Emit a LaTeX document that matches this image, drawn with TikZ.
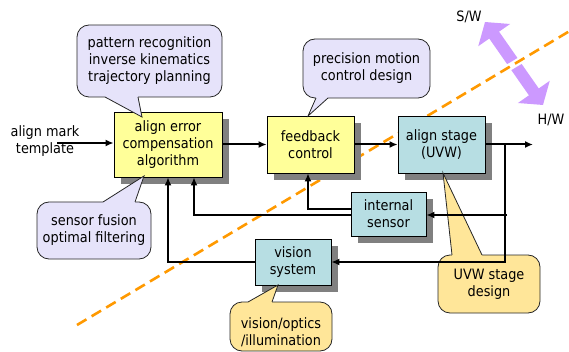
\documentclass[tikz,border=0pt]{standalone}
\usepackage{fontspec}
\setmainfont{DejaVu Sans Condensed}
\usetikzlibrary{arrows.meta,shadows}

\definecolor{boxyellow}{HTML}{FFFF99}
\definecolor{boxcyan}{HTML}{B7DEE3}
\definecolor{lavender}{HTML}{E6E3FA}
\definecolor{sand}{HTML}{FFE699}
\definecolor{swhw}{HTML}{CC99FF}
\definecolor{divider}{HTML}{FF9900}
\definecolor{shade}{HTML}{808080}

% pointer of a speech bubble: fill colour, left x, right x, base y, inner y, tip
\newcommand\calloutptr[6]{%
  \fill[#1] (#2,#5) -- (#2,#4) -- (#6) -- (#3,#4) -- (#3,#5) -- cycle;
  \draw[bubbleline] (#2,#4) -- (#6) -- (#3,#4);}

\begin{document}
\begin{tikzpicture}[x=1pt,y=-1pt,
  font=\fontsize{14.3}{17}\selectfont,
  block/.style={draw, line width=0.8pt, align=center, inner sep=0pt,
    drop shadow={shadow xshift=7pt, shadow yshift=-7pt, fill=shade, opacity=1}},
  ybox/.style={block, fill=boxyellow},
  cbox/.style={block, fill=boxcyan},
  bubbleline/.style={draw=black!85, line width=0.8pt},
  bubble/.style={bubbleline, rounded corners=12pt, align=center, inner sep=0pt},
  conn/.style={line width=2pt, -{Latex[length=8pt,width=7pt]}},
  fbk/.style={line width=1.5pt, -{Latex[length=8pt,width=7pt]}},
  plain/.style={align=center, inner sep=0pt}]
\useasboundingbox (0,0) rectangle (569,352);

% software / hardware split
\coordinate (swtip) at (485,22);
\coordinate (hwtip) at (543,105);
\draw[swhw, line width=12pt, {Triangle[length=16pt,width=38pt]}-{Triangle[length=16pt,width=38pt]}] (swtip) -- (hwtip);
\draw[white, line width=7pt] (496,75) -- (533,53);
\coordinate (dl1) at (77,325);
\coordinate (dl2) at (569,31.4);
\draw[divider, line width=2.6pt, dash pattern=on 11pt off 6pt] (dl1) -- (dl2);
\node[plain] (sw) at (469,17) {S/W};
\node[plain] (hw) at (551,120) {H/W};

% blocks
\node[ybox, minimum width=108, minimum height=65] (ae) at (168,144.5) {align error\\compensation\\algorithm};
\node[ybox, minimum width=87, minimum height=57] (fb) at (310.5,144.5) {feedback\\control};
\node[cbox, minimum width=87, minimum height=57] (st) at (441.5,144.5) {align stage\\(UVW)};
\node[cbox, minimum width=75, minimum height=44] (is) at (388.5,214) {internal\\sensor};
\node[cbox, minimum width=76, minimum height=46] (vs) at (293,262) {vision\\system};
\node[plain] (tmpl) at (45,141.5) {align mark\\template};

% speech bubbles
\node[bubble, fill=lavender, minimum width=145, minimum height=72] (b1) at (149.5,61)
  {pattern recognition\\inverse kinematics\\trajectory planning};
\calloutptr{lavender}{105}{138}{97}{95.5}{142,117}
\node[bubble, fill=lavender, minimum width=127, minimum height=59] (b2) at (366.5,68.5)
  {precision motion\\control design};
\calloutptr{lavender}{316}{328}{98}{96.5}{308,116}
\node[bubble, fill=lavender, minimum width=114, minimum height=57] (b3) at (94,230.5)
  {sensor fusion\\optimal filtering};
\calloutptr{lavender}{103}{135}{202}{203.5}{144,176}
\draw[bubble, fill=sand] (230,302) rectangle (332,351);
\node[plain] (b4) at (281,332) {vision/optics\\/illumination};
\calloutptr{sand}{248}{272}{302}{303.5}{278,285}
\node[bubble, fill=sand, minimum width=102, minimum height=58] (b5) at (489,284)
  {UVW stage\\design};
\calloutptr{sand}{452}{482}{255}{256.5}{443,173}

% signal flow
\coordinate (tin) at (57,143);
\coordinate (out) at (533,144.5);
\coordinate (jt) at (505,144.5);
\coordinate (jm) at (507,215);
\draw[conn] (tin) -- (tin -| ae.west);
\draw[conn] (ae) -- (fb);
\draw[conn] (fb) -- (st);
\draw[conn] (st.east |- out) -- (out);
\draw[conn] (jt) |- (vs.east);
\draw[conn] (jm) -- (jm -| is.east);
\draw[fbk] (is.west |- 0,209) -| (fb.south -| 308,0);
\draw[fbk] (is.west |- 0,215) -| (ae.south -| 194,0);
\draw[conn] (vs.west) -| (ae.south -| 168,0);
\end{tikzpicture}
\end{document}
